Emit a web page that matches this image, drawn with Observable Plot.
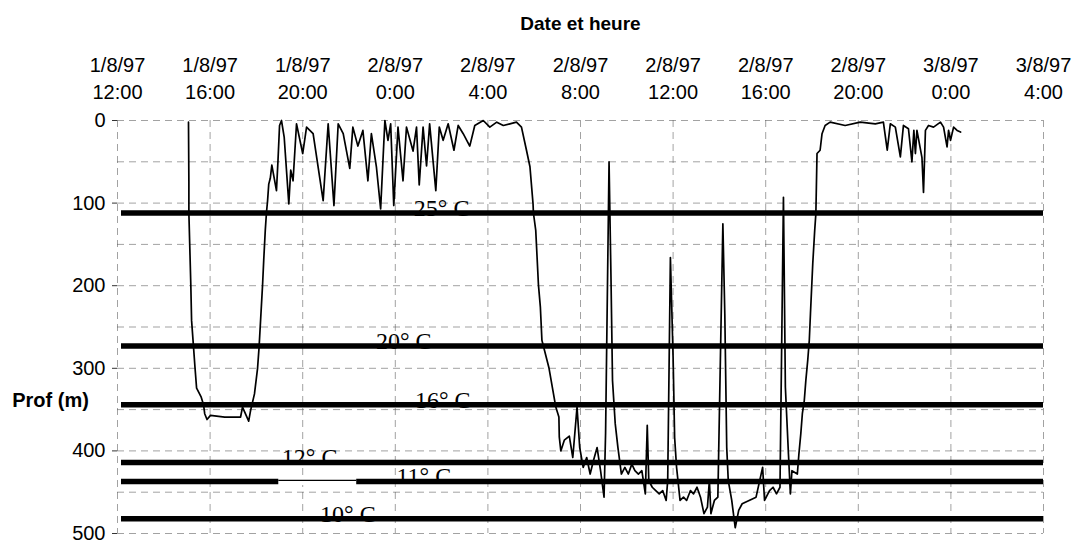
<!DOCTYPE html>
<html><head><meta charset="utf-8">
<script src="https://cdn.jsdelivr.net/npm/d3@7"></script>
<script src="https://cdn.jsdelivr.net/npm/@observablehq/plot@0.6"></script>
<style>html,body{margin:0;padding:0;background:#fff;} #chart{width:1075px;height:544px;}</style>
</head><body><div id="chart"></div>
<script>
// ---- Data ----
// Time stamps: day of August 1997 + clock time
const traceTime = [
"01 15:04","01 15:05","01 15:05","01 15:10","01 15:12","01 15:17","01 15:21","01 15:25","01 15:37","01 15:43",
"01 15:46","01 15:52","01 16:01","01 16:38","01 17:19","01 17:24","01 17:40","01 17:45","01 17:55","01 18:03",
"01 18:07","01 18:16","01 18:19","01 18:23","01 18:26","01 18:29","01 18:32","01 18:36","01 18:40","01 18:52",
"01 18:56","01 19:00","01 19:05","01 19:12","01 19:24","01 19:29","01 19:35","01 19:44","01 20:00","01 20:10",
"01 20:27","01 20:53","01 21:06","01 21:21","01 21:32","01 21:45","01 22:02","01 22:10","01 22:23","01 22:36",
"01 22:49","01 22:58","01 23:11","01 23:22","01 23:33","01 23:41","01 23:48","01 23:56",
"02 00:07","02 00:20","02 00:29","02 00:46","02 00:55","02 01:02","02 01:12","02 01:21","02 01:29","02 01:45",
"02 01:54","02 02:04","02 02:17","02 02:32","02 02:43","02 02:56","02 03:13","02 03:26","02 03:48","02 04:05",
"02 04:23","02 04:40","02 04:57","02 05:14","02 05:27","02 05:40","02 05:49","02 05:57","02 05:58","02 06:04",
"02 06:11","02 06:16","02 06:20","02 06:38","02 06:56","02 07:04","02 07:05","02 07:09","02 07:18","02 07:31",
"02 07:40","02 07:51","02 07:58","02 08:07","02 08:16","02 08:25","02 08:34","02 08:43","02 08:52","02 09:01",
"02 09:05","02 09:14","02 09:19","02 09:23","02 09:30","02 09:37","02 09:46","02 09:55","02 10:04","02 10:13",
"02 10:21","02 10:30","02 10:39","02 10:48","02 10:53","02 10:57","02 11:06","02 11:15","02 11:24","02 11:33",
"02 11:42","02 11:46","02 11:53","02 12:00","02 12:04","02 12:09","02 12:18","02 12:27","02 12:35","02 12:45",
"02 12:53","02 13:02","02 13:11","02 13:20","02 13:29","02 13:34","02 13:38","02 13:47","02 13:56","02 14:09",
"02 14:14","02 14:19","02 14:23","02 14:32","02 14:41","02 14:50","02 14:59","02 15:17","02 15:35","02 15:52",
"02 15:57","02 16:10","02 16:19","02 16:28","02 16:37","02 16:46","02 16:51","02 16:59","02 17:04","02 17:08",
"02 17:22","02 17:26","02 17:31","02 17:35","02 17:40","02 17:44","02 17:49","02 17:53","02 17:56","02 18:02",
"02 18:07","02 18:10","02 18:13","02 18:21","02 18:26","02 18:34","02 18:47","02 19:26","02 20:05","02 20:44",
"02 21:05","02 21:15","02 21:23","02 21:36","02 21:49","02 21:57","02 22:10","02 22:19","02 22:24","02 22:28",
"02 22:32","02 22:45","02 22:49","02 22:54","02 23:02","02 23:15","02 23:33","02 23:41","02 23:50","02 23:54",
"02 23:59","03 00:07","03 00:16","03 00:25"
];
const traceDepth = [
2,73,112,199,242,274,300,324,335,344,
355,362,357,359,359,347,364,351,331,300,
274,199,169,133,112,97,77,70,54,85,
48,6,0,20,101,60,73,4,40,8,
16,97,4,103,4,16,58,8,31,12,
73,16,56,107,0,24,4,103,
8,73,8,37,8,78,8,55,4,85,
8,24,4,36,6,16,31,6,0,8,
2,6,4,2,8,36,56,101,112,133,
199,226,266,299,347,359,383,400,387,382,
408,347,396,420,408,428,411,396,424,456,
379,50,190,315,367,396,428,420,428,416,
424,428,424,452,369,436,444,448,452,448,
460,436,166,287,384,420,460,456,460,448,
452,444,456,476,468,436,476,460,456,125,
234,396,436,460,493,472,464,460,456,420,
460,448,444,452,444,93,323,404,452,424,
428,404,379,355,339,315,290,266,234,173,
133,113,40,36,16,6,2,6,2,4,
2,36,4,8,44,6,10,50,12,40,
12,45,87,12,6,8,2,8,32,12,
24,8,12,14
];

// Isotherms
const isoDepth = [112, 273, 344, 414, 437, 482];
const isoLabel = ["25° C", "20° C", "16° C", "12° C", "11° C", "10° C"];
const isoLabelTime = ["02 02:00", "02 00:22", "02 02:03", "01 20:18", "02 01:14", "01 21:57"];
// thin stretch of the 11° C line
const gapDepth = [437];
const gapStart = ["01 18:58"];
const gapEnd = ["01 22:20"];

// Axis ticks
const tickTime = ["01 12:00","01 16:00","01 20:00","02 00:00","02 04:00","02 08:00","02 12:00","02 16:00","02 20:00","03 00:00","03 04:00"];
const tickDay = ["1/8/97","1/8/97","1/8/97","2/8/97","2/8/97","2/8/97","2/8/97","2/8/97","2/8/97","3/8/97","3/8/97"];
const tickClock = ["12:00","16:00","20:00","0:00","4:00","8:00","12:00","16:00","20:00","0:00","4:00"];
const yTicks = [0, 100, 200, 300, 400, 500];
const gridDepths = [0, 50, 100, 150, 200, 250, 300, 350, 400, 450, 500];

const xTitle = "Date et heure";
const yTitle = "Prof (m)";

// ---- Build ----
const parse = d3.timeParse("%Y-%m-%d %H:%M");
const P = s => parse("1997-08-" + s.slice(0, 2) + " " + s.slice(3));
const tickDates = tickTime.map(P);
const trace = traceTime.map((s, i) => ({t: P(s), d: traceDepth[i]}));
const iso = isoDepth.map((d, i) => ({d, label: isoLabel[i], t: P(isoLabelTime[i])}));
const gaps = gapDepth.map((d, i) => ({d, a: P(gapStart[i]), b: P(gapEnd[i])}));

const sans = "'Liberation Sans', Arial, sans-serif";
const serif = "'Liberation Serif', 'Times New Roman', serif";

const chart = Plot.plot({
  width: 1075, height: 544,
  marginTop: 120, marginLeft: 117, marginRight: 32, marginBottom: 11,
  x: {domain: [tickDates[0], tickDates[tickDates.length - 1]], axis: null, label: null},
  y: {domain: [0, 500], reverse: true, axis: null, label: null},
  style: {fontFamily: sans, fontSize: "20px", background: "white", color: "black", overflow: "visible"},
  marks: [
    Plot.ruleY(gridDepths, {stroke: "#555", strokeWidth: 1, strokeDasharray: "7,5", strokeOpacity: 0.55}),
    Plot.ruleX(tickDates, {stroke: "#555", strokeWidth: 1, strokeDasharray: "7,5", strokeOpacity: 0.55}),
    Plot.axisY({ticks: yTicks, tickSize: 5, tickFormat: () => "", label: null, stroke: "#333"}),
    Plot.ruleY(iso, {y: "d", stroke: "black", strokeWidth: 5.5, insetLeft: 4}),
    Plot.ruleY(gaps, {y: "d", x1: "a", x2: "b", stroke: "white", strokeWidth: 7}),
    Plot.ruleY(gaps, {y: "d", x1: "a", x2: "b", stroke: "black", strokeWidth: 1.2, dy: -1}),
    Plot.line(trace, {x: "t", y: "d", stroke: "black", strokeWidth: 1.7, strokeLinejoin: "round"}),
    Plot.text(iso, {x: "t", y: "d", text: "label", fontFamily: serif, fontSize: 24, lineAnchor: "bottom", dy: 3, fill: "black"}),
    Plot.text(yTicks, {y: d => d, frameAnchor: "left", dx: -12, textAnchor: "end", text: d => String(d), fontSize: 20}),
    Plot.text(tickDates, {x: d => d, frameAnchor: "top", dy: -63, text: (d, i) => tickDay[i], fontSize: 20}),
    Plot.text(tickDates, {x: d => d, frameAnchor: "top", dy: -36, text: (d, i) => tickClock[i], fontSize: 20}),
    Plot.text([xTitle], {frameAnchor: "top", dy: -104, text: d => d, fontWeight: "bold", fontSize: 19}),
    Plot.text([yTitle], {frameAnchor: "top-left", dx: -67, dy: 272, text: d => d, fontWeight: "bold", fontSize: 20, textAnchor: "middle"})
  ]
});
document.getElementById("chart").append(chart);
</script></body></html>
